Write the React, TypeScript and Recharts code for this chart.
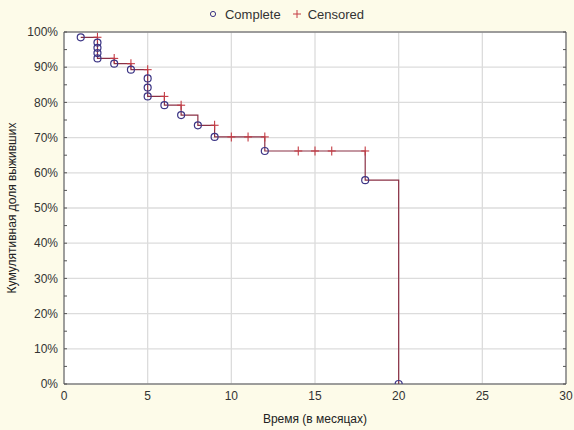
import React from 'react';
import {
  ComposedChart,
  Line,
  Scatter,
  XAxis,
  YAxis,
  CartesianGrid,
  Legend
} from 'recharts';

// Kaplan-Meier step curve (time in months, survival in %)
const curveTimes = [1, 2, 3, 4, 5, 6, 7, 8, 9, 12, 18, 20];
const curveSurv = [98.5, 92.5, 91.0, 89.3, 81.7, 79.2, 76.4, 73.5, 70.2, 66.2, 57.9, 0];

// complete (event) observations
const completeTimes = [1, 2, 2, 2, 2, 3, 4, 5, 5, 5, 6, 7, 8, 9, 12, 18, 20];
const completeSurv = [98.5, 97.0, 95.5, 94.0, 92.5, 91.0, 89.3, 86.8, 84.2, 81.7, 79.2, 76.4, 73.5, 70.2, 66.2, 57.9, 0];

// censored observations
const censorTimes = [2, 3, 4, 5, 6, 7, 9, 10, 11, 12, 14, 15, 16, 18];
const censorSurv = [98.5, 92.5, 91.0, 89.3, 81.7, 79.2, 73.5, 70.2, 70.2, 70.2, 66.2, 66.2, 66.2, 66.2];

const xMajor = [0, 5, 10, 15, 20, 25, 30];
const xMinor = Array.from({ length: 31 }, (_, i) => i);
const yMajor = [0, 10, 20, 30, 40, 50, 60, 70, 80, 90, 100];
const yMinor = Array.from({ length: 21 }, (_, i) => i * 5);

const curveData = curveTimes.map((t, i) => ({ t, s: curveSurv[i] }));
const completeData = completeTimes.map((t, i) => ({ t, s: completeSurv[i] }));
const censorData = censorTimes.map((t, i) => ({ t, s: censorSurv[i] }));

const FONT = '"Liberation Sans", Arial, sans-serif';
const LINE = '#8a3045';
const CIRCLE = '#3c3585';
const PLUS = '#c43c44';

const CircleShape = (props: any) => (
  <circle cx={props.cx} cy={props.cy} r={3.5} fill="none" stroke={CIRCLE} strokeWidth={1.2} />
);

const PlusShape = (props: any) => (
  <g stroke={PLUS} strokeWidth={1.1}>
    <line x1={props.cx - 4} y1={props.cy} x2={props.cx + 4} y2={props.cy} />
    <line x1={props.cx} y1={props.cy - 4.5} x2={props.cx} y2={props.cy + 4.5} />
  </g>
);

const LegendContent = () => (
  <div style={{ display: 'flex', justifyContent: 'center', fontFamily: FONT, fontSize: 13, color: '#333', height: 20, alignItems: 'center', paddingLeft: 6 }}>
    <svg width={10} height={10} style={{ marginRight: 7 }}>
      <circle cx={5} cy={5} r={2.6} fill="none" stroke={CIRCLE} strokeWidth={1} />
    </svg>
    <span style={{ marginRight: 11 }}>Complete</span>
    <svg width={10} height={10} style={{ marginRight: 6 }}>
      <line x1={1} y1={5} x2={9} y2={5} stroke={PLUS} strokeWidth={1} />
      <line x1={5} y1={1} x2={5} y2={9} stroke={PLUS} strokeWidth={1} />
    </svg>
    <span>Censored</span>
  </div>
);

const YLabel = (props: any) => {
  const vb = props.viewBox;
  return (
    <text
      x={vb.x + 12}
      y={vb.y + vb.height / 2}
      transform={`rotate(-90, ${vb.x + 12}, ${vb.y + vb.height / 2})`}
      textAnchor="middle"
      dominantBaseline="central"
      fontFamily={FONT}
      fontSize={12}
      fill="#222"
    >
      Кумулятивная доля выживших
    </text>
  );
};

const XLabel = (props: any) => {
  const vb = props.viewBox;
  return (
    <text x={vb.x + vb.width / 2} y={vb.y + 39} textAnchor="middle" fontFamily={FONT} fontSize={12} fill="#222">
      Время (в месяцах)
    </text>
  );
};

const tickStyle = { fontSize: 12, fill: '#333', fontFamily: FONT };
const blank = () => '';

export default function App() {
  return (
    <div style={{ width: 574, height: 430, background: '#fdfbe9' }}>
      <style>{`body{margin:0}`}</style>
      <ComposedChart width={574} height={430} margin={{ top: 12, right: 8, bottom: 0, left: 0 }}>
        <Legend verticalAlign="top" height={20} content={LegendContent} wrapperStyle={{ top: 4 }} />
        <CartesianGrid fill="#ffffff" stroke="#dcdcdc" strokeWidth={1.3} />
        <XAxis
          type="number"
          dataKey="t"
          domain={[0, 30]}
          ticks={xMajor}
          allowDataOverflow
          height={46}
          tickLine={false}
          axisLine={false}
          tickSize={0}
          tickMargin={7}
          tick={tickStyle}
          label={<XLabel />}
        />
        <YAxis
          type="number"
          dataKey="s"
          domain={[0, 100]}
          ticks={yMajor}
          allowDataOverflow
          width={64}
          tickLine={false}
          axisLine={false}
          tickSize={0}
          tickMargin={6}
          tick={tickStyle}
          tickFormatter={(v: number) => `${v}%`}
          label={<YLabel />}
        />
        {/* inward minor ticks and frame on all four sides */}
        <XAxis xAxisId="b" type="number" domain={[0, 30]} ticks={xMinor} allowDataOverflow mirror
          orientation="bottom" tickSize={3} tickFormatter={blank} stroke="#555" height={20} />
        <XAxis xAxisId="t" type="number" domain={[0, 30]} ticks={xMinor} allowDataOverflow mirror
          orientation="top" tickSize={3} tickFormatter={blank} stroke="#555" height={20} />
        <YAxis yAxisId="l" type="number" domain={[0, 100]} ticks={yMinor} allowDataOverflow mirror
          orientation="left" tickSize={3} tickFormatter={blank} stroke="#555" width={20} />
        <YAxis yAxisId="r" type="number" domain={[0, 100]} ticks={yMinor} allowDataOverflow mirror
          orientation="right" tickSize={3} tickFormatter={blank} stroke="#555" width={20} />
        <Line
          data={curveData}
          dataKey="s"
          type="stepAfter"
          stroke={LINE}
          strokeWidth={1.2}
          dot={false}
          activeDot={false}
          isAnimationActive={false}
          legendType="none"
        />
        <Scatter data={censorData} dataKey="s" shape={PlusShape} isAnimationActive={false} legendType="none" />
        <Scatter data={completeData} dataKey="s" shape={CircleShape} isAnimationActive={false} legendType="none" />
      </ComposedChart>
    </div>
  );
}
